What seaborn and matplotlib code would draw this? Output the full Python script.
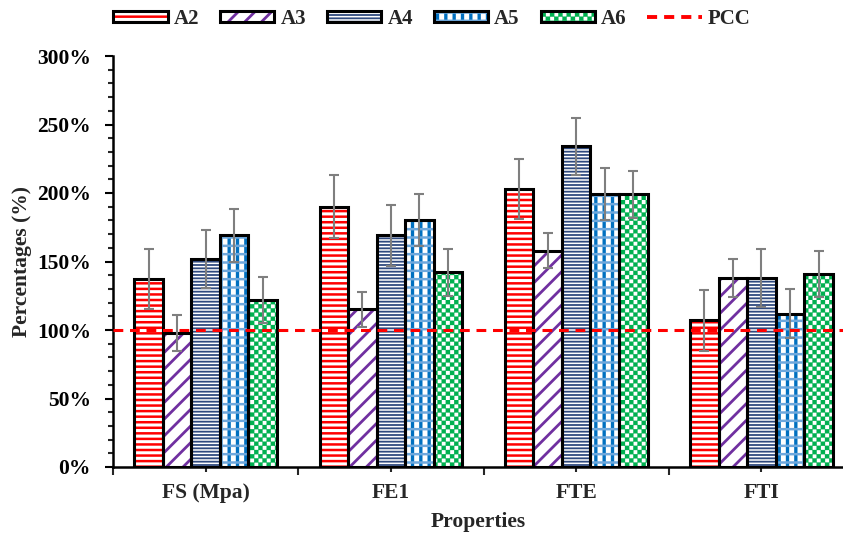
import matplotlib
matplotlib.use("Agg")
import matplotlib.pyplot as plt
import matplotlib.hatch as mhatch
from matplotlib.path import Path
import seaborn as sns
import pandas as pd
import numpy as np
from matplotlib.patches import Patch, Rectangle
from matplotlib.lines import Line2D
from matplotlib.legend_handler import HandlerBase
from matplotlib.ticker import MultipleLocator, FuncFormatter, FixedLocator

categories = ["FS (Mpa)", "FE1", "FTE", "FTI"]
series = ["A2", "A3", "A4", "A5", "A6"]
A2 = [137, 190, 203, 107]
A3 = [98, 115, 158, 138]
A4 = [152, 169, 234, 138]
A5 = [169, 180, 199, 112]
A6 = [122, 142, 199, 141]
A2_err = [22, 23, 22, 22]
A3_err = [13, 13, 13, 14]
A4_err = [21, 22, 21, 21]
A5_err = [19, 19, 19, 18]
A6_err = [17, 17, 17, 17]
pcc = 100
y_ticks = [0, 50, 100, 150, 200, 250, 300]

values = [A2, A3, A4, A5, A6]
errors = [A2_err, A3_err, A4_err, A5_err, A6_err]

df = pd.DataFrame({
    "Properties": [c for _ in series for c in categories],
    "Series": [s for s in series for _ in categories],
    "Value": [v for vals in values for v in vals],
})


# checkerboard hatch: '*' now produces filled checker squares
class CheckerHatch(mhatch.HatchPatternBase):
    def __init__(self, hatch, density):
        self.n = hatch.count("*") * 24
        self.num_vertices = (self.n * self.n // 2) * 5

    def set_vertices_and_codes(self, vertices, codes):
        n = self.n
        s = 1.0 / n
        k = 0
        for i in range(n):
            for j in range(n):
                if (i + j) % 2 == 0:
                    x0, y0 = i * s, j * s
                    vertices[k:k + 5] = [[x0, y0], [x0 + s, y0], [x0 + s, y0 + s],
                                         [x0, y0 + s], [x0, y0]]
                    codes[k:k + 5] = [Path.MOVETO, Path.LINETO, Path.LINETO,
                                      Path.LINETO, Path.CLOSEPOLY]
                    k += 5


mhatch._hatch_types = [CheckerHatch if t is mhatch.Stars else t for t in mhatch._hatch_types]

# pattern layers: list of (face, hatch colour, hatch, hatch linewidth)
styles = {
    "A2": [("#FF0000", "white", "---", 2.2)],
    "A3": [("white", "#7030A0", "//", 2.0)],
    "A4": [("white", "#2F4A7F", "-----", 1.3)],
    "A5": [("white", "#0070C0", "||", 2.4), ("none", "#6FA8DC", "--", 1.8)],
    "A6": [("white", "#00B050", "*", 0.2)],
}

sns.set_theme(style="white")
plt.rcParams["font.family"] = ["Liberation Serif", "DejaVu Serif"]
plt.rcParams["font.weight"] = "bold"

FS = 15.5

fig = plt.figure(figsize=(8.43, 5.36), dpi=100)
ax = fig.add_axes([113 / 843, 1 - 467 / 536, (843 - 113) / 843, (467 - 56) / 536])

sns.barplot(data=df, x="Properties", y="Value", hue="Series", order=categories,
            hue_order=series, errorbar=None, width=0.77, gap=0, ax=ax,
            legend=False, linewidth=0)


def styled(rect, face, hcol, hatch, hlw):
    plt.rcParams["hatch.linewidth"] = hlw
    r = Rectangle(rect.get_xy(), rect.get_width(), rect.get_height(), facecolor=face,
                  edgecolor=hcol, hatch=hatch, linewidth=0)
    if hasattr(r, "set_hatch_linewidth"):
        r.set_hatch_linewidth(hlw)
    return r


for cont, s, errs in zip(ax.containers, series, errors):
    xs = []
    hs = []
    for p in cont.patches:
        p.set_visible(False)
        z = p.get_zorder()
        for li, (face, hcol, hatch, hlw) in enumerate(styles[s]):
            r = styled(p, face, hcol, hatch, hlw)
            r.set_zorder(z + 0.01 * li)
            ax.add_patch(r)
        outline = Rectangle(p.get_xy(), p.get_width(), p.get_height(), fill=False,
                            edgecolor="black", linewidth=2.2, zorder=z + 0.1)
        ax.add_patch(outline)
        xs.append(p.get_x() + p.get_width() / 2)
        hs.append(p.get_height())
    ax.errorbar(xs, hs, yerr=errs, fmt="none", ecolor="#7F7F7F", elinewidth=1.5,
                capsize=3.8, capthick=1.5, zorder=5)

ax.axhline(pcc, color="#FF0000", linestyle=(0, (3.2, 2.2)), linewidth=2.2, zorder=6)

ax.set_ylim(0, 300)
ax.set_xlim(-0.5, 3.44)
ax.yaxis.set_major_locator(FixedLocator(y_ticks))
ax.yaxis.set_minor_locator(MultipleLocator(10))
ax.yaxis.set_major_formatter(FuncFormatter(lambda v, _: f"{int(v)}%"))
ax.xaxis.set_minor_locator(FixedLocator([-0.5, 0.5, 1.5, 2.5, 3.5]))

for sp in ["top", "right"]:
    ax.spines[sp].set_visible(False)
for sp in ["left", "bottom"]:
    ax.spines[sp].set_linewidth(1.8)
    ax.spines[sp].set_color("black")

ax.tick_params(axis="y", which="major", direction="out", length=6, width=1.5,
               labelsize=FS, left=True, pad=10, colors="black")
ax.tick_params(axis="y", which="minor", direction="out", length=3.5, width=1.5, left=True)
ax.tick_params(axis="x", which="major", direction="out", length=3.5, width=1.5,
               labelsize=FS, bottom=True, pad=8)
ax.tick_params(axis="x", which="minor", direction="out", length=6, width=1.5, bottom=True)
for lab in ax.get_xticklabels() + ax.get_yticklabels():
    lab.set_fontweight("bold")

ax.set_xlabel("Properties", fontsize=FS, fontweight="bold")
ax.set_ylabel("Percentages (%)", fontsize=FS, fontweight="bold")
ax.xaxis.set_label_coords((478 - 113) / 730, (467 - 512) / 411)
ax.yaxis.set_label_coords((32 - 113) / 730, 0.5)


class PatternHandler(HandlerBase):
    def __init__(self, layers):
        super().__init__()
        self.layers = layers

    def create_artists(self, legend, orig_handle, xdescent, ydescent, width, height,
                       fontsize, trans):
        arts = []
        base = Rectangle((-xdescent, -ydescent), width, height)
        for face, hcol, hatch, hlw in self.layers:
            r = styled(base, face, hcol, hatch, hlw)
            r.set_transform(trans)
            arts.append(r)
        r2 = Rectangle((-xdescent, -ydescent), width, height, fill=False,
                       edgecolor="black", linewidth=2.2, transform=trans)
        arts.append(r2)
        return arts


handles = []
hmap = {}
for s in series:
    h = Patch(facecolor="white")
    handles.append(h)
    hmap[h] = PatternHandler(styles[s])
handles.append(Line2D([], [], color="#FF0000", linestyle=(0, (2.6, 1.8)), linewidth=2.8))
labels = series + ["PCC"]
fig.legend(handles, labels, loc="center", bbox_to_anchor=(432 / 843, 1 - 19 / 536), ncol=6,
           frameon=False, handler_map=hmap,
           handlelength=2.6, handleheight=0.45, handletextpad=0.3, columnspacing=1.0,
           prop={"family": ["Liberation Serif"], "weight": "bold", "size": 15})

fig.savefig("out.png", dpi=100)
